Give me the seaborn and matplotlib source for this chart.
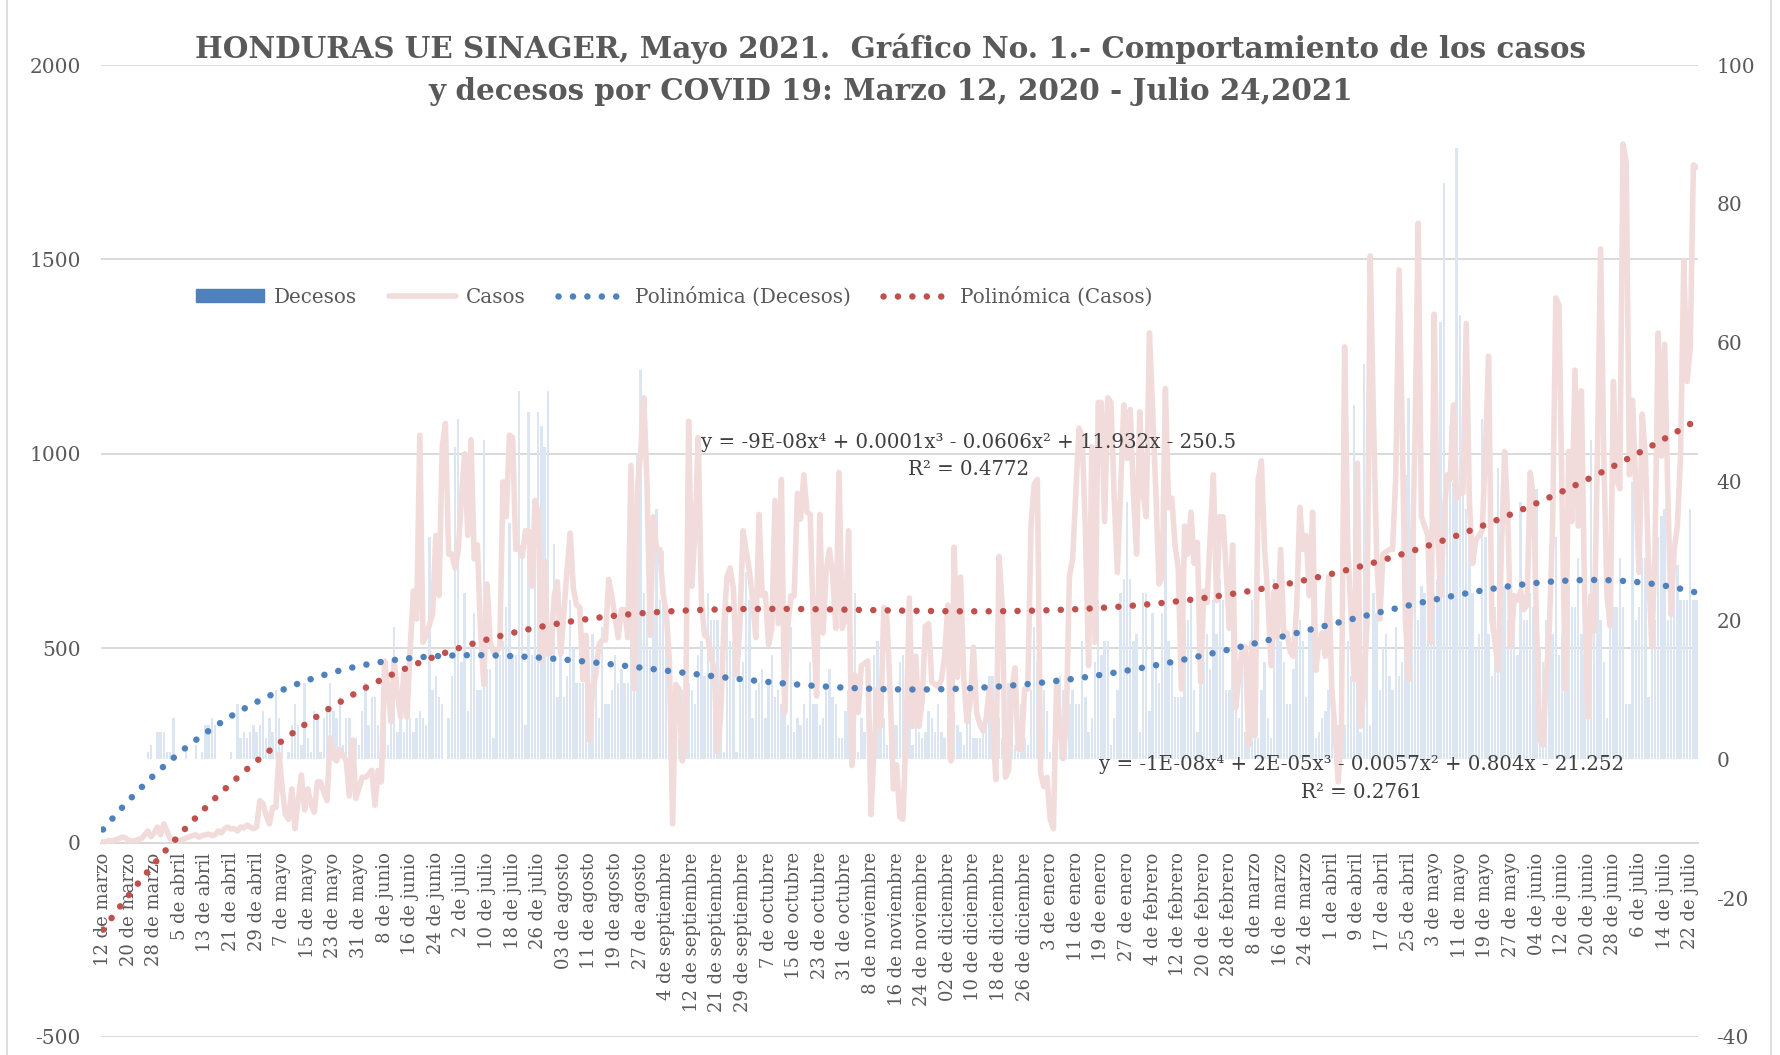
import numpy as np
import pandas as pd
import matplotlib
matplotlib.use("Agg")
import matplotlib.pyplot as plt
import seaborn as sns
from matplotlib.lines import Line2D
from matplotlib.patches import Patch

# ---------------- data ----------------
casos = [
    2, 3, 5, 4, 8, 10, 14, 12, 6, 4,
    5, 8, 10, 20, 30, 15, 25, 40, 20, 48,
    30, 10, 8, 6, 5, 8, 12, 15, 18, 20,
    14, 18, 20, 22, 18, 20, 30, 25, 36, 40,
    35, 36, 30, 40, 38, 45, 40, 36, 40, 108,
    100, 70, 48, 90, 90, 228, 140, 72, 60, 138,
    36, 110, 174, 84, 138, 100, 78, 156, 156, 130,
    108, 270, 220, 210, 240, 225, 210, 120, 264, 114,
    140, 168, 168, 175, 186, 96, 186, 156, 467, 400,
    311, 467, 380, 323, 437, 323, 500, 647, 575, 1048,
    515, 533, 560, 587, 790, 635, 1018, 1078, 742, 742,
    706, 750, 886, 1000, 790, 1036, 730, 766, 539, 407,
    665, 515, 491, 491, 503, 928, 838, 1048, 1042, 754,
    760, 736, 802, 802, 659, 880, 850, 467, 724, 485,
    491, 635, 671, 485, 587, 700, 796, 653, 611, 605,
    419, 533, 263, 395, 431, 509, 521, 521, 677, 635,
    580, 527, 599, 599, 527, 970, 395, 910, 1000, 1144,
    922, 533, 838, 754, 754, 641, 593, 467, 48, 407,
    395, 210, 251, 1084, 659, 796, 1042, 623, 533, 527,
    480, 443, 234, 323, 551, 683, 706, 653, 431, 551,
    802, 750, 700, 623, 527, 844, 635, 641, 509, 551,
    880, 563, 934, 335, 557, 635, 635, 898, 832, 946,
    850, 844, 563, 377, 844, 539, 700, 754, 689, 551,
    952, 551, 575, 802, 198, 431, 335, 455, 461, 467,
    72, 251, 395, 299, 605, 575, 383, 138, 200, 66,
    60, 300, 629, 299, 479, 299, 365, 557, 563, 413,
    407, 401, 419, 479, 611, 210, 760, 425, 683, 419,
    311, 359, 503, 335, 305, 287, 320, 401, 323, 162,
    736, 611, 168, 186, 395, 449, 240, 240, 395, 395,
    814, 922, 934, 180, 144, 168, 60, 36, 419, 300,
    216, 300, 683, 730, 900, 1066, 1042, 802, 455, 1018,
    515, 1132, 1132, 826, 1144, 1132, 886, 695, 910, 1126,
    988, 1114, 898, 742, 1108, 900, 838, 1311, 1114, 904,
    665, 683, 1168, 862, 886, 766, 706, 395, 814, 742,
    850, 718, 772, 413, 647, 617, 790, 946, 623, 838,
    838, 700, 551, 766, 347, 431, 497, 503, 251, 515,
    275, 934, 982, 754, 635, 455, 647, 527, 754, 539,
    539, 491, 479, 600, 862, 754, 790, 635, 850, 443,
    515, 539, 479, 683, 395, 287, 156, 287, 1275, 754,
    587, 419, 976, 299, 395, 563, 1509, 1100, 742, 575,
    742, 748, 754, 754, 946, 1473, 1066, 575, 419, 683,
    1042, 1593, 838, 814, 790, 515, 1359, 802, 635, 826,
    946, 934, 1126, 886, 898, 900, 1335, 874, 718, 778,
    790, 802, 1006, 1251, 575, 515, 443, 754, 1006, 838,
    503, 635, 623, 647, 599, 611, 952, 886, 551, 263,
    251, 419, 557, 814, 1401, 1383, 850, 395, 1006, 826,
    1215, 814, 1162, 635, 323, 635, 545, 994, 1527, 994,
    635, 557, 1186, 934, 910, 1797, 1749, 946, 1138, 910,
    695, 1102, 994, 706, 503, 754, 1311, 994, 1282, 898,
    587, 754, 814, 1000, 1497, 1186, 1270, 1743, 1737,
]

decesos = [
    0, 0, 0, 0, 0, 0, 0, 0, 0, 0,
    0, 0, 0, 0, 1, 2, 0, 4, 4, 4,
    1, 1, 6, 0, 0, 0, 1, 0, 0, 2,
    0, 1, 5, 5, 6, 5, 0, 0, 0, 0,
    1, 0, 8, 3, 4, 3, 4, 5, 4, 5,
    7, 3, 6, 4, 10, 6, 2, 0, 1, 5,
    8, 5, 2, 11, 3, 1, 7, 6, 1, 6,
    7, 11, 7, 6, 9, 2, 6, 6, 2, 3,
    2, 7, 11, 5, 9, 9, 5, 2, 8, 2,
    8, 19, 4, 6, 4, 8, 6, 4, 6, 7,
    6, 5, 32, 10, 12, 9, 8, 0, 6, 12,
    45, 49, 14, 24, 7, 17, 21, 10, 10, 46,
    13, 13, 3, 16, 15, 17, 22, 34, 15, 15,
    53, 31, 5, 50, 15, 30, 50, 48, 45, 53,
    21, 31, 9, 15, 9, 12, 23, 16, 11, 11,
    11, 18, 11, 18, 14, 6, 19, 8, 8, 10,
    15, 11, 13, 11, 11, 18, 15, 44, 56, 24,
    21, 16, 21, 36, 23, 30, 22, 9, 5, 3,
    3, 10, 14, 11, 10, 8, 15, 17, 12, 24,
    20, 20, 20, 4, 1, 27, 17, 17, 1, 11,
    14, 27, 23, 6, 10, 11, 13, 6, 11, 15,
    9, 10, 8, 7, 5, 19, 4, 6, 5, 8,
    6, 14, 8, 8, 5, 6, 10, 13, 9, 8,
    3, 3, 7, 10, 18, 24, 1, 6, 4, 8,
    6, 15, 17, 9, 6, 2, 8, 5, 5, 14,
    15, 12, 10, 2, 5, 4, 3, 4, 7, 6,
    4, 8, 4, 3, 6, 4, 7, 5, 4, 2,
    9, 7, 3, 3, 3, 5, 8, 12, 12, 2,
    6, 3, 7, 11, 8, 2, 4, 8, 3, 2,
    10, 19, 14, 4, 10, 7, 1, 2, 3, 12,
    10, 6, 8, 10, 8, 8, 17, 9, 4, 6,
    14, 23, 15, 17, 17, 2, 6, 10, 24, 26,
    37, 26, 17, 18, 4, 24, 24, 7, 21, 14,
    11, 21, 36, 17, 14, 9, 9, 9, 20, 20,
    23, 10, 4, 23, 14, 18, 13, 23, 18, 26,
    23, 10, 10, 27, 12, 6, 15, 4, 2, 23,
    6, 3, 10, 14, 6, 3, 26, 19, 17, 14,
    8, 8, 13, 18, 20, 17, 9, 19, 27, 3,
    4, 6, 7, 10, 13, 6, 5, 5, 5, 17,
    12, 51, 32, 4, 57, 34, 5, 24, 21, 10,
    16, 18, 12, 10, 19, 12, 14, 41, 52, 18,
    38, 20, 25, 24, 22, 22, 24, 26, 63, 83,
    40, 48, 40, 88, 64, 53, 36, 36, 24, 16,
    18, 49, 32, 18, 12, 22, 42, 22, 25, 20,
    20, 22, 15, 37, 20, 20, 24, 22, 39, 16,
    14, 20, 16, 18, 32, 15, 18, 17, 25, 22,
    22, 29, 18, 15, 22, 46, 22, 26, 20, 14,
    6, 23, 22, 22, 29, 22, 8, 8, 40, 20,
    22, 29, 29, 9, 17, 20, 32, 35, 36, 20,
    21, 25, 28, 23, 23, 23, 36, 23, 23,
]

etiquetas = [
    "12 de marzo", "20 de marzo", "28 de marzo", "5 de abril", "13 de abril",
    "21 de abril", "29 de abril", "7 de mayo", "15 de mayo", "23 de mayo",
    "31 de mayo", "8 de junio", "16 de junio", "24 de junio", "2 de julio",
    "10 de julio", "18 de julio", "26 de julio", "03 de agosto", "11 de agosto",
    "19 de agosto", "27 de agosto", "4 de septiembre", "12 de septiembre",
    "21 de septiembre", "29 de septiembre", "7 de octubre", "15 de octubre",
    "23 de octubre", "31 de octubre", "8 de noviembre", "16 de noviembre",
    "24 de noviembre", "02 de diciembre", "10 de diciembre", "18 de diciembre",
    "26 de diciembre", "3 de enero", "11 de enero", "19 de enero", "27 de enero",
    "4 de febrero", "12 de febrero", "20 de febrero", "28 de febrero",
    "8 de marzo", "16 de marzo", "24 de marzo", "1 de abril", "9 de abril",
    "17 de abril", "25 de abril", "3 de mayo", "11 de mayo", "19 de mayo",
    "27 de mayo", "04 de junio", "12 de junio", "20 de junio", "28 de junio",
    "6 de julio", "14 de julio", "22 de julio",
]

titulo1 = "HONDURAS UE SINAGER, Mayo 2021.  Gráfico No. 1.- Comportamiento de los casos"
titulo2 = "y decesos por COVID 19: Marzo 12, 2020 - Julio 24,2021"
ec_casos = "y = -9E-08x\u2074 + 0.0001x\u00b3 - 0.0606x\u00b2 + 11.932x - 250.5"
r2_casos = "R\u00b2 = 0.4772"
ec_dec = "y = -1E-08x\u2074 + 2E-05x\u00b3 - 0.0057x\u00b2 + 0.804x - 21.252"
r2_dec = "R\u00b2 = 0.2761"
ticks_izq = [-500, 0, 500, 1000, 1500, 2000]
ticks_der = [-40, -20, 0, 20, 40, 60, 80, 100]

# ---------------- styling ----------------
N = len(casos)
dia = np.arange(1, N + 1)
df = pd.DataFrame({"dia": dia, "casos": casos, "decesos": decesos})

sns.set_style("white")
plt.rcParams["font.family"] = ["DejaVu Serif"]
plt.rcParams["axes.unicode_minus"] = False

GRIS = "#595959"
GRID = "#d9d9d9"
C_BAR = "#dce6f2"
C_LINE = "#f2dcdb"
C_AZUL = "#4f81bd"
C_ROJO = "#c0504d"
DOTS = (0, (0.01, 2.2))
LW_DOT = 4.7

W, H = 1781, 1055
fig = plt.figure(figsize=(W / 100, H / 100), dpi=100, facecolor="white")
ax = fig.add_axes([101.4 / W, 1 - 1037 / H, 1596.8 / W, 972 / H])
ax2 = ax.twinx()
axc = ax.twinx()
ax3 = ax.twinx()
ax.set_zorder(1)
ax2.set_zorder(2)
axc.set_zorder(3)
ax3.set_zorder(4)

# bars: deaths (right scale)
sns.barplot(data=df, x="dia", y="decesos", native_scale=True, color=C_BAR,
            saturation=1, width=0.8, errorbar=None, linewidth=0,
            edgecolor="none", ax=ax2)
ax2.set_ylim(-40, 100)
ax2.set_yticks(ticks_der)
ax2.set_xlabel("")
ax2.set_ylabel("")
for s in ax2.spines.values():
    s.set_visible(False)
ax2.tick_params(axis="y", length=0, labelsize=14.5, colors=GRIS, pad=13)
ax2.patch.set_visible(False)

# cases line (left scale)
sns.lineplot(data=df, x="dia", y="casos", color=C_LINE, lw=4,
             solid_joinstyle="round", ax=axc)
sns.regplot(data=df, x="dia", y="casos", order=4, scatter=False, ci=None,
            truncate=True, color=C_ROJO,
            line_kws=dict(lw=LW_DOT, ls=DOTS, dash_capstyle="round"), ax=axc)
axc.set_ylim(-500, 2000)
axc.axis("off")

# deaths trend (right scale)
sns.regplot(data=df, x="dia", y="decesos", order=4, scatter=False, ci=None,
            truncate=True, color=C_AZUL,
            line_kws=dict(lw=LW_DOT, ls=DOTS, dash_capstyle="round"), ax=ax3)
ax3.set_ylim(-40, 100)
ax3.axis("off")

# base axis: grid, left ticks, category labels
ax.set_ylim(-500, 2000)
ax.set_yticks(ticks_izq)
ax.grid(axis="y", color=GRID, lw=1.4)
ax.grid(axis="x", visible=False)
for k, s in ax.spines.items():
    s.set_visible(False)
ax.spines["bottom"].set_visible(True)
ax.spines["bottom"].set_position(("data", 0))
ax.spines["bottom"].set_color(GRID)
ax.spines["bottom"].set_linewidth(1.4)
ax.set_xticks(dia[::8])
ax.set_xticklabels(etiquetas, rotation=90)
ax.tick_params(axis="x", length=0, labelsize=13, colors=GRIS, pad=7)
ax.tick_params(axis="y", length=0, labelsize=14.5, colors=GRIS, pad=15)
ax.set_xlim(0.5, N + 0.5)

# legend
handles = [
    Patch(facecolor=C_AZUL, edgecolor=C_AZUL),
    Line2D([], [], color=C_LINE, lw=4, solid_capstyle="round"),
    Line2D([], [], color=C_AZUL, lw=LW_DOT, ls=DOTS, dash_capstyle="round"),
    Line2D([], [], color=C_ROJO, lw=LW_DOT, ls=DOTS, dash_capstyle="round"),
]
labels = ["Decesos", "Casos", "Polinómica (Decesos)", "Polinómica (Casos)"]
leg = ax3.legend(handles, labels, loc="center", bbox_to_anchor=(674.5 / W, 1 - 296.5 / H),
                 bbox_transform=fig.transFigure, ncol=4, frameon=False, fontsize=14.3,
                 handlelength=3.4, handleheight=0.6, handletextpad=0.5, columnspacing=1.6)
for t in leg.get_texts():
    t.set_color(GRIS)

# trendline equations
TXT = "#404040"
fig.text(969 / W, 1 - 443 / H, ec_casos, ha="center", va="center", fontsize=14.2, color=TXT)
fig.text(969 / W, 1 - 470 / H, r2_casos, ha="center", va="center", fontsize=14.2, color=TXT)
fig.text(1362 / W, 1 - 765 / H, ec_dec, ha="center", va="center", fontsize=14.2, color=TXT)
fig.text(1362 / W, 1 - 792 / H, r2_dec, ha="center", va="center", fontsize=14.2, color=TXT)

# title
fig.text(0.5, 1 - 49 / H, titulo1, ha="center", va="center", fontsize=21.2,
         fontweight="bold", color=GRIS)
fig.text(0.5, 1 - 91 / H, titulo2, ha="center", va="center", fontsize=21.2,
         fontweight="bold", color=GRIS)

# chart frame
for xp in (7.5 / W, 1771 / W):
    fig.add_artist(Line2D([xp, xp], [0, 1], transform=fig.transFigure, color=GRID, lw=1.2))

fig.savefig("out.png", dpi=100, facecolor="white")
